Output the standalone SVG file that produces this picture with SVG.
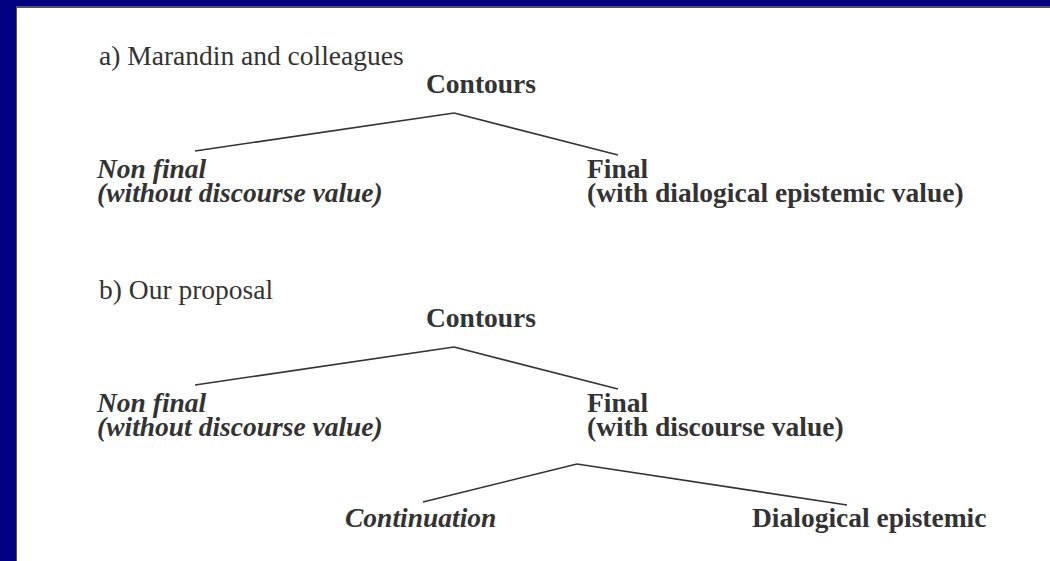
<svg xmlns="http://www.w3.org/2000/svg" width="1050" height="561" viewBox="0 0 1050 561">
<style>
text{font-family:"Liberation Serif","Times New Roman",serif;font-size:27.5px;fill:#333}
.b{font-weight:bold}
.i{font-style:italic}
.bi{font-weight:bold;font-style:italic}
.c{text-anchor:middle}
#connectors line{stroke:#333;stroke-width:1.6}
</style>
<rect width="1050" height="561" fill="#000080"/>
<rect x="16" y="6" width="1034" height="555" fill="#555"/>
<rect x="17" y="8" width="1033" height="553" fill="#fff"/>
<g id="label-a"><text x="99" y="65">a) Marandin and colleagues</text></g>
<g id="a-root"><text class="b c" x="481" y="93">Contours</text></g>
<g id="a-nonfinal"><text class="bi" x="97" y="178">Non final</text><text class="bi" x="97" y="202">(without discourse value)</text></g>
<g id="a-final"><text class="b" x="587" y="178">Final</text><text class="b" x="587" y="202">(with dialogical epistemic value)</text></g>
<g id="label-b"><text x="99" y="299">b) Our proposal</text></g>
<g id="b-root"><text class="b c" x="481" y="327">Contours</text></g>
<g id="b-nonfinal"><text class="bi" x="97" y="412">Non final</text><text class="bi" x="97" y="436">(without discourse value)</text></g>
<g id="b-final"><text class="b" x="587" y="412">Final</text><text class="b" x="587" y="436">(with discourse value)</text></g>
<g id="b-continuation"><text class="bi" x="345" y="527">Continuation</text></g>
<g id="b-dialogical"><text class="b" x="752" y="527">Dialogical epistemic</text></g>
<g id="connectors">
<line x1="195" y1="151" x2="454" y2="113"/>
<line x1="454" y1="113" x2="618" y2="155"/>
<line x1="195" y1="385" x2="454" y2="347"/>
<line x1="454" y1="347" x2="618" y2="389"/>
<line x1="423" y1="502" x2="577" y2="464"/>
<line x1="577" y1="464" x2="847" y2="505"/>
</g>
</svg>
